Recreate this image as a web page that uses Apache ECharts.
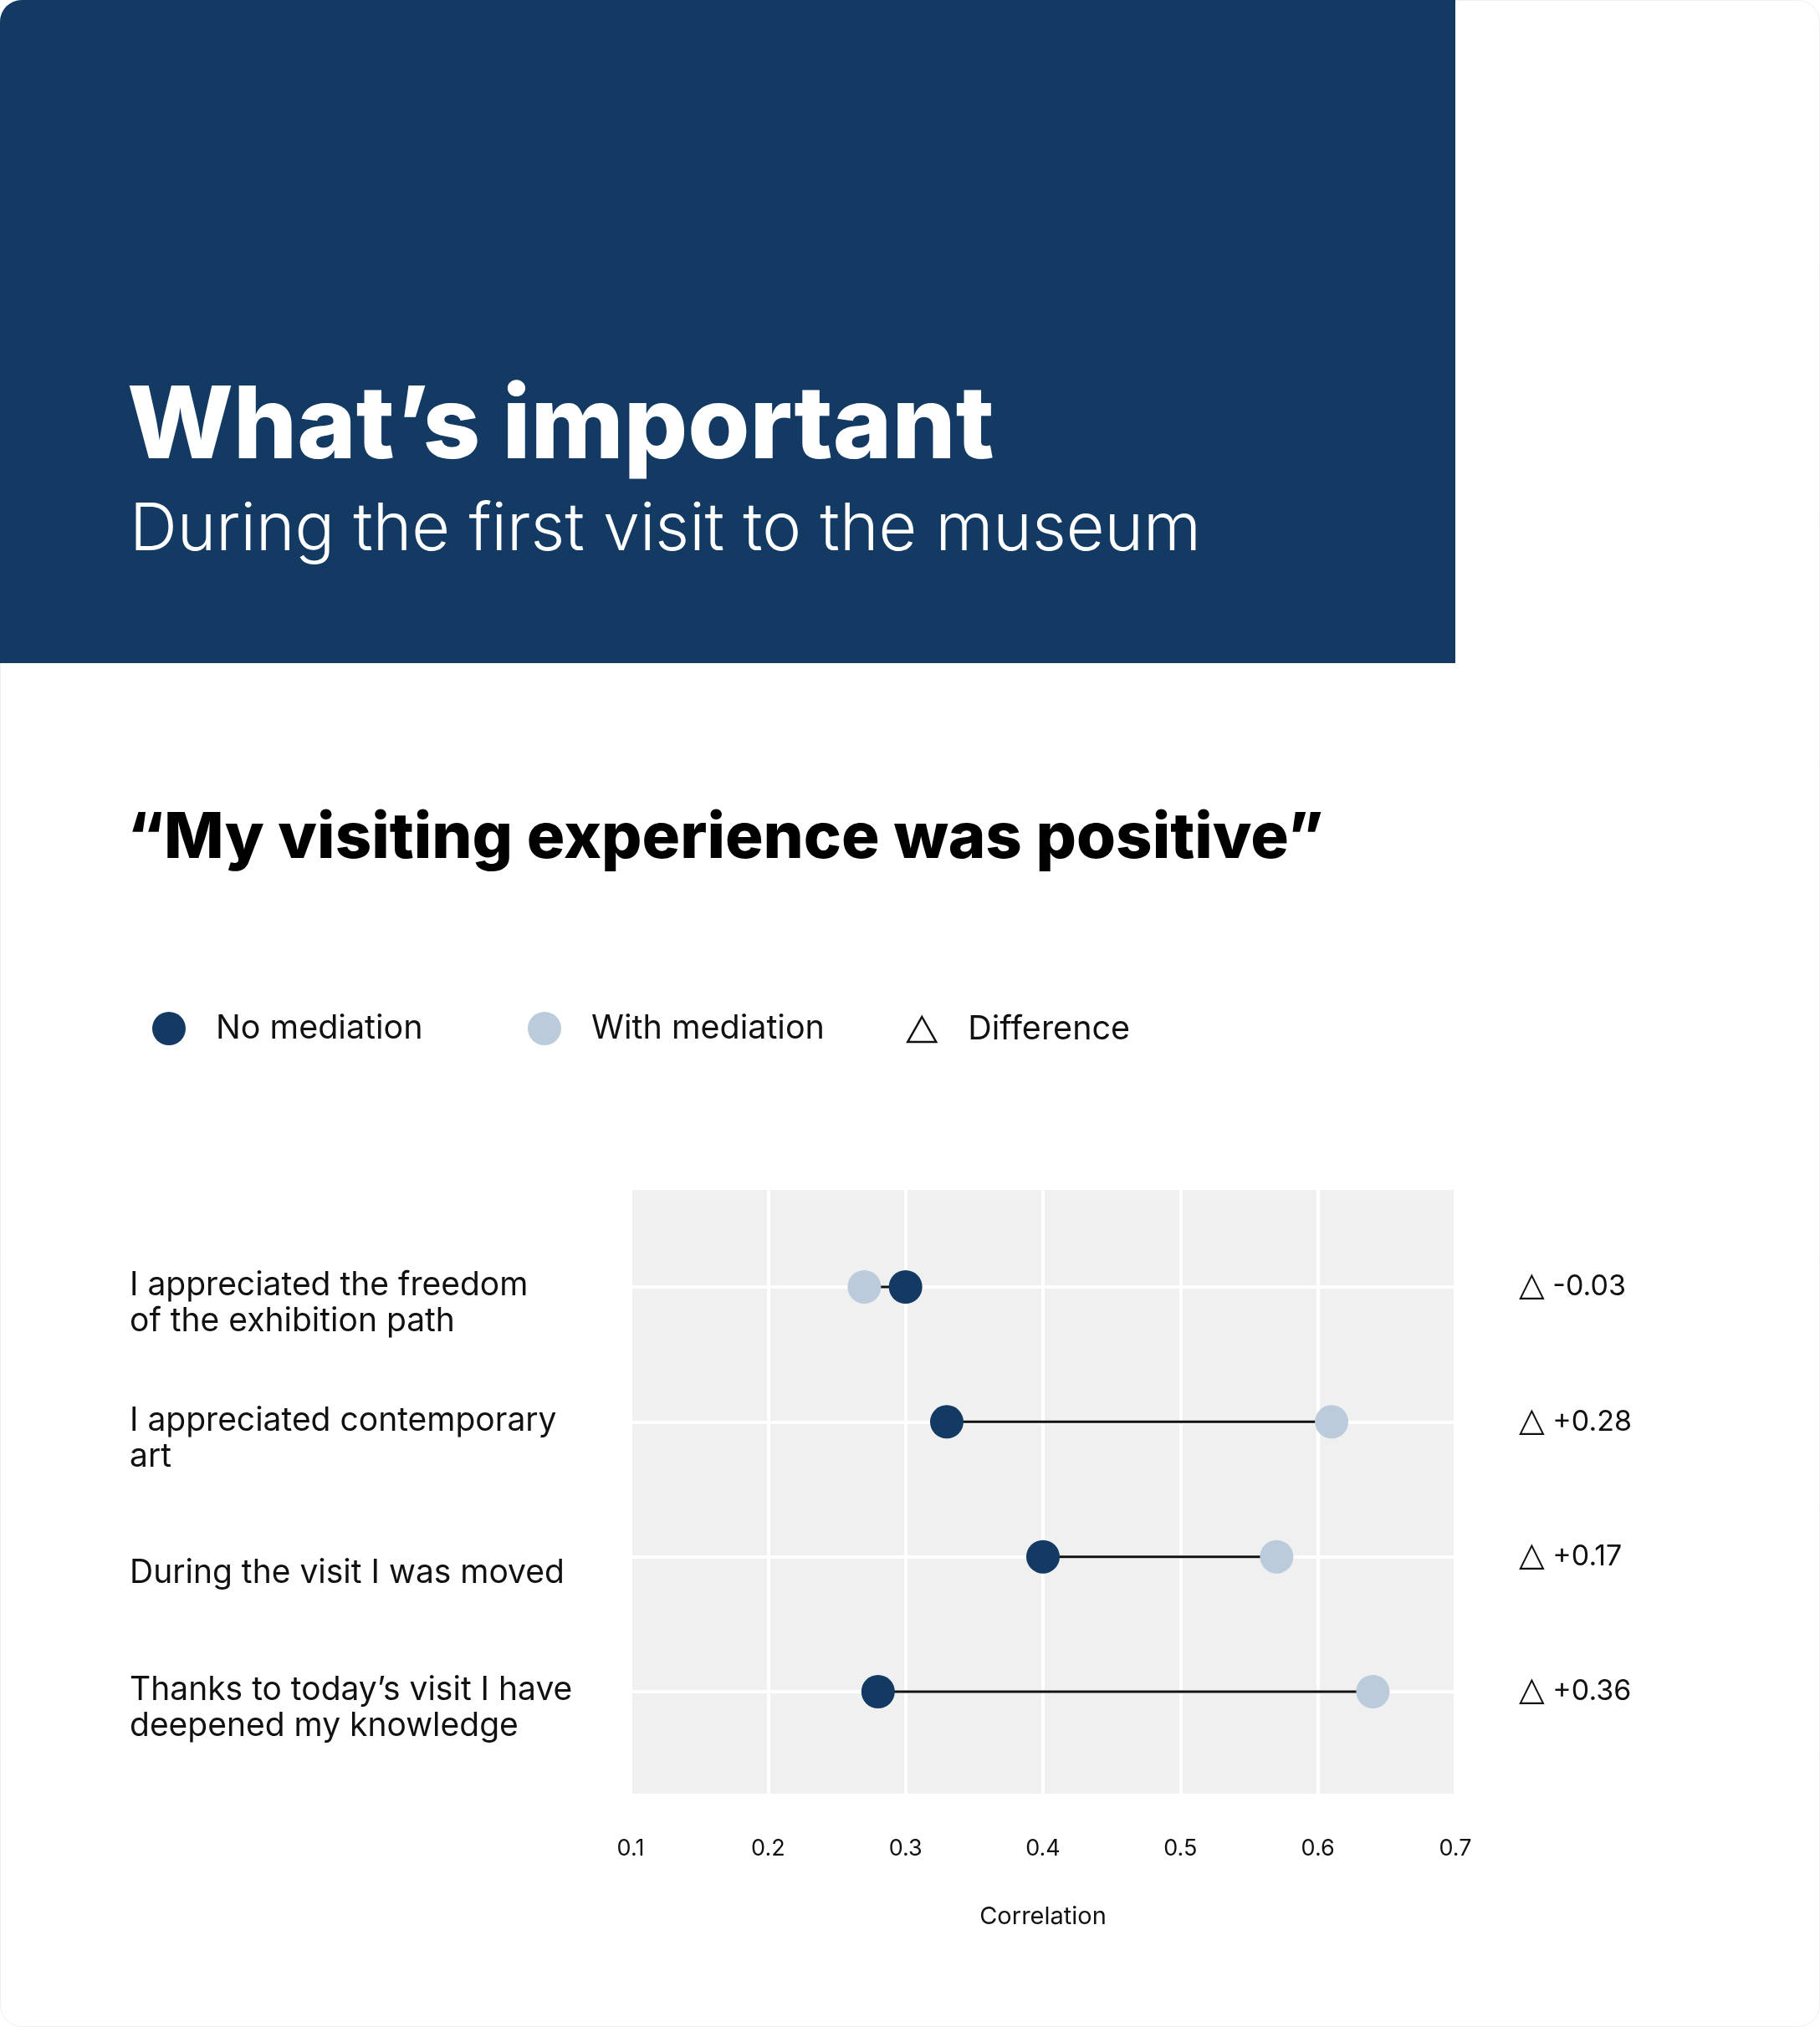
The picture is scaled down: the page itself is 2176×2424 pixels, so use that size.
<!DOCTYPE html>
<html>
<head>
<meta charset="utf-8">
<script src="https://cdn.jsdelivr.net/npm/echarts@6/dist/echarts.min.js"></script>
<style>
  html, body { margin: 0; padding: 0; background: #fff; }
  #main { width: 2176px; height: 2424px; }
</style>
</head>
<body>
<div id="main"></div>
<script>
// data
var statements = [
    'I appreciated the freedom\nof the exhibition path',
    'I appreciated contemporary\nart',
    'During the visit I was moved',
    'Thanks to today\u2019s visit I have\ndeepened my knowledge'
];
var noMediation = [0.30, 0.33, 0.40, 0.28];
var withMediation = [0.27, 0.61, 0.57, 0.64];
var differences = ['-0.03', '+0.28', '+0.17', '+0.36'];
var xTicks = [0.1, 0.2, 0.3, 0.4, 0.5, 0.6, 0.7];

var DARK = '#133a63';
var LIGHT = '#bccbdc';
var FONT = 'Inter';

function getChart() {
    var myChart = echarts.init(document.getElementById('main'));
    window.onresize = myChart.resize;

    var noData = noMediation.map(function (v, i) { return [v, i]; });
    var withData = withMediation.map(function (v, i) { return [v, i]; });
    var pairData = noMediation.map(function (v, i) { return [v, withMediation[i], i]; });

    var option = {
        backgroundColor: '#fff',
        animation: false,
        graphic: [
            {
                type: 'rect', z: -20,
                shape: { x: 0.5, y: 0.5, width: 2175, height: 2423, r: 26 },
                style: { fill: '#fff', stroke: '#efefef', lineWidth: 1 }
            },
            {
                type: 'rect', z: -10,
                shape: { x: 0, y: 0, width: 1740, height: 793, r: [26, 0, 0, 0] },
                style: { fill: DARK }
            }
        ],
        title: [
            {
                text: 'What\u2019s important', left: 152, top: 452, padding: 0,
                textStyle: { color: '#fff', fontSize: 120, fontWeight: 800, fontFamily: FONT }
            },
            {
                text: 'During the first visit to the museum', left: 155, top: 595, padding: 0,
                textStyle: { color: '#fff', fontSize: 79, fontWeight: 300, fontFamily: FONT }
            },
            {
                text: '\u201cMy visiting experience was positive\u201d', left: 152, top: 965, padding: 0,
                textStyle: { color: '#000', fontSize: 76, fontWeight: 800, fontFamily: FONT }
            }
        ],
        legend: [
            {
                left: 182, top: 1210, padding: 0, itemWidth: 40, itemHeight: 40,
                data: [{ name: 'No mediation', icon: 'circle' }],
                formatter: '{g|}{name}',
                textStyle: { fontSize: 39.5, color: '#111', fontFamily: FONT, rich: { g: { width: 31 } } }
            },
            {
                left: 631, top: 1210, padding: 0, itemWidth: 40, itemHeight: 40,
                data: [{ name: 'With mediation', icon: 'circle' }],
                formatter: '{g|}{name}',
                textStyle: { fontSize: 39.5, color: '#111', fontFamily: FONT, rich: { g: { width: 31 } } }
            },
            {
                left: 1084, top: 1211, padding: 0, itemWidth: 34, itemHeight: 30,
                data: [{
                    name: 'Difference', icon: 'triangle',
                    itemStyle: { color: 'rgba(0,0,0,0)', borderColor: '#111', borderWidth: 2.5 }
                }],
                formatter: '{g|}{name}',
                textStyle: { fontSize: 39.5, color: '#111', fontFamily: FONT, rich: { g: { width: 33 } } }
            }
        ],
        grid: [
            { left: 754, top: 1423, width: 986, height: 722, show: true, backgroundColor: '#f0f0f0', borderWidth: 0 },
            { left: 754, top: 1539, width: 986, height: 484 }
        ],
        xAxis: [
            {
                gridIndex: 0, type: 'value', min: xTicks[0], max: xTicks[xTicks.length - 1], interval: 0.1,
                axisLine: { show: false }, axisTick: { show: false },
                splitLine: { show: true, lineStyle: { color: '#fff', width: 4 } },
                axisLabel: {
                    margin: 52, fontSize: 27, color: '#111', fontFamily: FONT,
                    formatter: function (v) { return (Math.round(v * 10) / 10).toFixed(1); }
                },
                name: 'Correlation', nameLocation: 'middle', nameGap: 133,
                nameTextStyle: { fontSize: 29, color: '#111', fontFamily: FONT }
            },
            {
                gridIndex: 1, type: 'value', min: xTicks[0], max: xTicks[xTicks.length - 1], show: false
            }
        ],
        yAxis: [
            { gridIndex: 0, type: 'value', show: false },
            {
                gridIndex: 1, type: 'category', data: statements, inverse: true, boundaryGap: false,
                axisLine: { show: false }, axisTick: { show: false },
                splitLine: { show: true, lineStyle: { color: '#fff', width: 4 } },
                axisLabel: {
                    interval: 0, align: 'left', margin: 599, color: '#111',
                    fontFamily: FONT, fontSize: 39,
                    // an empty top line pushes each label a little below its row line
                    formatter: function (v) {
                        return '{s|}\n' + v.split('\n').map(function (l) { return '{b|' + l + '}'; }).join('\n');
                    },
                    rich: {
                        s: { lineHeight: 40, fontSize: 10 },
                        b: { fontSize: 39, lineHeight: 43, color: '#111', fontFamily: FONT }
                    }
                }
            },
            {
                gridIndex: 1, type: 'category', data: differences, inverse: true, boundaryGap: false,
                position: 'right',
                axisLine: { show: false }, axisTick: { show: false }, splitLine: { show: false },
                axisLabel: {
                    interval: 0, align: 'left', margin: 76, color: '#111', fontFamily: FONT, fontSize: 34,
                    formatter: function (v) { return '{t|\u25b3} ' + v; },
                    rich: { t: { fontSize: 40, fontFamily: 'DejaVu Sans', color: '#111' } }
                }
            }
        ],
        series: [
            {
                name: 'Difference', type: 'custom', xAxisIndex: 1, yAxisIndex: 1,
                encode: { x: [0, 1], y: 2 },
                data: pairData, z: 1,
                renderItem: function (params, api) {
                    var a = api.coord([api.value(0), api.value(2)]);
                    var b = api.coord([api.value(1), api.value(2)]);
                    return {
                        type: 'line',
                        shape: { x1: a[0], y1: a[1], x2: b[0], y2: b[1] },
                        style: { stroke: '#111', lineWidth: 3 }
                    };
                }
            },
            {
                name: 'With mediation', type: 'scatter', xAxisIndex: 1, yAxisIndex: 1,
                symbolSize: 40, data: withData, z: 3,
                itemStyle: { color: LIGHT, opacity: 1 }
            },
            {
                name: 'No mediation', type: 'scatter', xAxisIndex: 1, yAxisIndex: 1,
                symbolSize: 40, data: noData, z: 4,
                itemStyle: { color: DARK, opacity: 1 }
            }
        ]
    };

    myChart.setOption(option, true);
}

getChart();
</script>
</body>
</html>
